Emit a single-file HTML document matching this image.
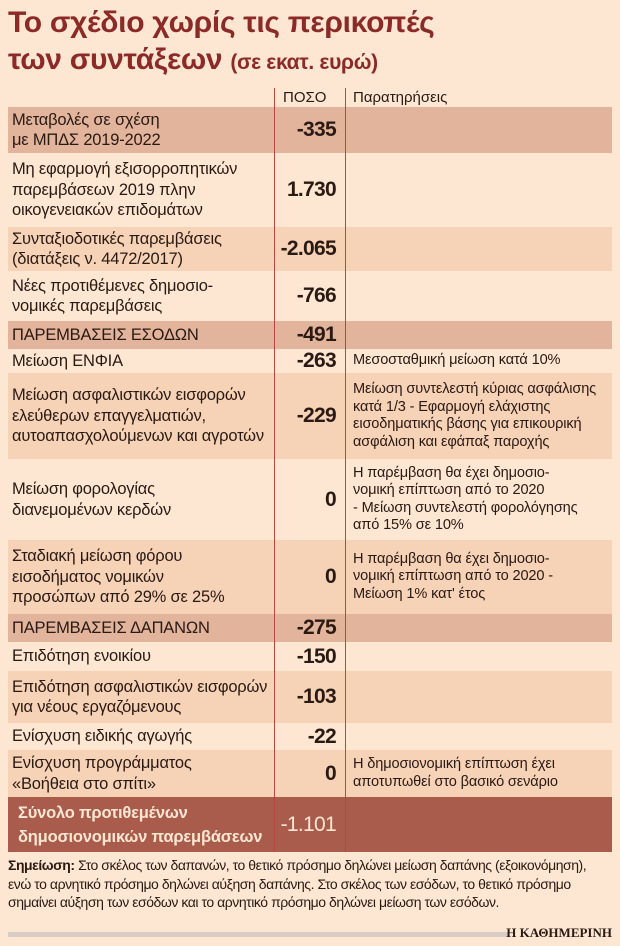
<!DOCTYPE html>
<html><head><meta charset="utf-8">
<style>
*{margin:0;padding:0;box-sizing:border-box}
body{width:620px;height:946px;background:#fde6d2;font-family:"Liberation Sans Narrow","Liberation Sans","DejaVu Sans Condensed",sans-serif;color:#2a1a14;position:relative;overflow:hidden}
h1{position:absolute;left:8px;top:4px;font-size:30px;line-height:37px;color:#8c2a28;font-weight:bold;letter-spacing:-0.3px}
h1 small{font-size:21px}
.row{position:absolute;left:8px;width:604px;display:flex;align-items:center}
.c1{position:absolute;left:4px;width:268px;font-size:16.5px;line-height:20.5px;letter-spacing:-0.2px}
.c2{position:absolute;left:248px;width:80px;text-align:right;font-weight:bold;font-size:21px;letter-spacing:-0.7px}
.c3{position:absolute;left:345px;width:268px;font-size:14.6px;line-height:17.5px;letter-spacing:-0.15px}
.hd{background:#e2b49c}.alt{background:#f6d2b7}.bg{background:transparent}
.tot{background:#a95c4c;color:#fde6d2}
.tot .c1{font-weight:bold;font-size:16.5px;line-height:24px}
.tot .c2{font-weight:normal}
.vl{position:absolute;top:88px;height:764px;width:1px;background:#b5493f}
.note{position:absolute;left:8px;top:856px;width:610px;font-size:14px;line-height:18.5px;letter-spacing:-0.45px}
</style></head><body>
<h1>Το σχέδιο χωρίς τις περικοπές<br>των συντάξεων <small>(σε εκατ. ευρώ)</small></h1>
<div style="position:absolute;left:283px;top:89px;font-size:15px">ΠΟΣΟ</div>
<div style="position:absolute;left:353px;top:89px;font-size:15px">Παρατηρήσεις</div>

<div class="row hd" style="top:107px;height:46px"><div class="c1">Μεταβολές σε σχέση<br>με ΜΠΔΣ 2019-2022</div><div class="c2">-335</div></div>
<div class="row bg" style="top:153px;height:74px"><div class="c1">Μη εφαρμογή εξισορροπητικών<br>παρεμβάσεων 2019 πλην<br>οικογενειακών επιδομάτων</div><div class="c2">1.730</div></div>
<div class="row alt" style="top:227px;height:44px"><div class="c1">Συνταξιοδοτικές παρεμβάσεις<br>(διατάξεις ν. 4472/2017)</div><div class="c2">-2.065</div></div>
<div class="row bg" style="top:271px;height:50px"><div class="c1">Νέες προτιθέμενες δημοσιο-<br>νομικές παρεμβάσεις</div><div class="c2">-766</div></div>
<div class="row hd" style="top:321px;height:28px"><div class="c1">ΠΑΡΕΜΒΑΣΕΙΣ ΕΣΟΔΩΝ</div><div class="c2">-491</div></div>
<div class="row bg" style="top:349px;height:24px"><div class="c1">Μείωση ΕΝΦΙΑ</div><div class="c2">-263</div><div class="c3">Μεσοσταθμική μείωση κατά 10%</div></div>
<div class="row alt" style="top:373px;height:86px"><div class="c1">Μείωση ασφαλιστικών εισφορών<br>ελεύθερων επαγγελματιών,<br>αυτοαπασχολούμενων και αγροτών</div><div class="c2">-229</div><div class="c3">Μείωση συντελεστή κύριας ασφάλισης<br>κατά 1/3 - Εφαρμογή ελάχιστης<br>εισοδηματικής βάσης για επικουρική<br>ασφάλιση και εφάπαξ παροχής</div></div>
<div class="row bg" style="top:459px;height:81px"><div class="c1">Μείωση φορολογίας<br>διανεμομένων κερδών</div><div class="c2">0</div><div class="c3">Η παρέμβαση θα έχει δημοσιο-<br>νομική επίπτωση από το 2020<br>- Μείωση συντελεστή φορολόγησης<br>από 15% σε 10%</div></div>
<div class="row alt" style="top:540px;height:74px"><div class="c1">Σταδιακή μείωση φόρου<br>εισοδήματος νομικών<br>προσώπων από 29% σε 25%</div><div class="c2">0</div><div class="c3">Η παρέμβαση θα έχει δημοσιο-<br>νομική επίπτωση από το 2020 -<br>Μείωση 1% κατ' έτος</div></div>
<div class="row hd" style="top:614px;height:28px"><div class="c1">ΠΑΡΕΜΒΑΣΕΙΣ ΔΑΠΑΝΩΝ</div><div class="c2">-275</div></div>
<div class="row bg" style="top:642px;height:29px"><div class="c1">Επιδότηση ενοικίου</div><div class="c2">-150</div></div>
<div class="row alt" style="top:671px;height:52px"><div class="c1">Επιδότηση ασφαλιστικών εισφορών<br>για νέους εργαζόμενους</div><div class="c2">-103</div></div>
<div class="row bg" style="top:723px;height:27px"><div class="c1">Ενίσχυση ειδικής αγωγής</div><div class="c2">-22</div></div>
<div class="row alt" style="top:750px;height:47px"><div class="c1">Ενίσχυση προγράμματος<br>«Βοήθεια στο σπίτι»</div><div class="c2">0</div><div class="c3">Η δημοσιονομική επίπτωση έχει<br>αποτυπωθεί στο βασικό σενάριο</div></div>
<div class="row tot" style="top:797px;height:55px"><div class="c1" style="left:10px">Σύνολο προτιθεμένων<br>δημοσιονομικών παρεμβάσεων</div><div class="c2">-1.101</div></div>
<div class="vl" style="left:274px"></div>
<div class="vl" style="left:345px"></div>
<div class="note"><b>Σημείωση:</b> Στο σκέλος των δαπανών, το θετικό πρόσημο δηλώνει μείωση δαπάνης (εξοικονόμηση),<br>ενώ το αρνητικό πρόσημο δηλώνει αύξηση δαπάνης. Στο σκέλος των εσόδων, το θετικό πρόσημο<br>σημαίνει αύξηση των εσόδων και το αρνητικό πρόσημο δηλώνει μείωση των εσόδων.</div>
<div style="position:absolute;left:8px;top:932px;width:500px;height:5px;background:#d8ccc4"></div>
<div style="position:absolute;right:8px;top:925px;font-family:'Liberation Serif',serif;font-weight:bold;font-size:13px">Η ΚΑΘΗΜΕΡΙΝΗ</div>
</body></html>
